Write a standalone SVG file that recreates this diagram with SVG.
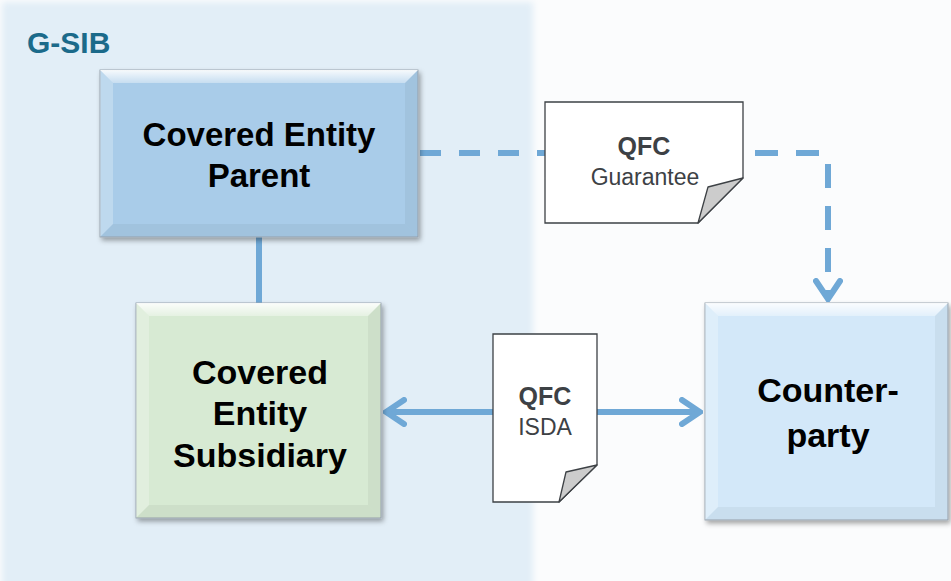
<svg xmlns="http://www.w3.org/2000/svg" width="951" height="581" viewBox="0 0 951 581">
<style>
.lbl{font-family:"Liberation Sans",Arial,sans-serif;font-weight:bold;font-size:33px;fill:#000;text-anchor:middle}
.lbl2{font-family:"Liberation Sans",Arial,sans-serif;font-weight:bold;font-size:34px;fill:#000;text-anchor:middle}
.dq{font-family:"Liberation Sans",Arial,sans-serif;font-weight:bold;font-size:25px;fill:#3d4145;text-anchor:middle}
.dt{font-family:"Liberation Sans",Arial,sans-serif;font-size:23px;fill:#3d4145;text-anchor:middle}
.doc{fill:#ffffff;stroke:#3d4145;stroke-width:1.3}
.fold{fill:#cccccc;stroke:#3d4145;stroke-width:1.3;stroke-linejoin:round}
.conn{fill:none;stroke:#6fa8d6;stroke-width:6}
.box{stroke:#9aa6b0;stroke-width:1}
.hi{fill:url(#hiGrad)}
.lside{fill:#ffffff;fill-opacity:0.25}
.dside{fill:#000000;fill-opacity:0.045}
</style>
<defs>
<linearGradient id="hiGrad" x1="0" y1="0" x2="0" y2="1">
<stop offset="0" stop-color="#ffffff" stop-opacity="0.9"/>
<stop offset="1" stop-color="#ffffff" stop-opacity="0.35"/>
</linearGradient>
<filter id="sh" x="-10%" y="-10%" width="130%" height="130%">
<feDropShadow dx="2" dy="3" stdDeviation="2.5" flood-color="#000" flood-opacity="0.35"/>
</filter>
<filter id="soft" x="-5%" y="-5%" width="110%" height="110%">
<feGaussianBlur stdDeviation="3"/>
</filter>
<marker id="chev" viewBox="0 0 24 30" refX="21" refY="15" markerWidth="24" markerHeight="30" orient="auto-start-reverse" markerUnits="userSpaceOnUse">
<path d="M3,3 L21,15 L3,27" fill="none" stroke="#6fa8d6" stroke-width="6" stroke-linecap="round" stroke-dasharray="none"/>
</marker>
</defs>
<rect width="951" height="581" fill="#fbfcfd"/>
<rect id="gsib-panel" x="2" y="2" width="531" height="600" fill="#e2eef7" filter="url(#soft)"/>
<text x="27" y="53" font-family="'Liberation Sans',Arial,sans-serif" font-weight="bold" font-size="30" fill="#1b6a8a">G-SIB</text>

<g id="connectors">
<line class="conn" x1="259" y1="236" x2="259" y2="304"/>
<path class="conn" d="M420,153 H545" stroke-dasharray="21 18"/>
<path class="conn" d="M755,153 H828" stroke-dasharray="23 18"/>
<path class="conn" d="M828,164 V299" stroke-dasharray="24 18" marker-end="url(#chev)"/>
<path class="conn" d="M493,412 H386" marker-end="url(#chev)"/>
<path class="conn" d="M597,412 H700" marker-end="url(#chev)"/>
</g>

<g id="node-parent">
<rect class="box" x="100" y="70" width="318" height="167" fill="#a9cce9" filter="url(#sh)"/>
<polygon class="hi" points="100,70 418,70 405,83 113,83"/>
<polygon class="lside" points="100,70 113,83 113,224 100,237"/>
<polygon class="dside" points="418,70 418,237 405,224 405,83"/>
<polygon class="dside" points="100,237 418,237 405,224 113,224"/>
<text class="lbl" x="259" y="146">Covered Entity</text>
<text class="lbl" x="259" y="187">Parent</text>
</g>

<g id="node-subsidiary">
<rect class="box" x="136" y="303" width="245" height="215" fill="#d7ead3" filter="url(#sh)"/>
<polygon class="hi" points="136,303 381,303 368,316 149,316"/>
<polygon class="lside" points="136,303 149,316 149,505 136,518"/>
<polygon class="dside" points="381,303 381,518 368,505 368,316"/>
<polygon class="dside" points="136,518 381,518 368,505 149,505"/>
<text class="lbl2" x="260" y="384">Covered</text>
<text class="lbl2" x="260" y="425">Entity</text>
<text class="lbl2" x="260" y="467">Subsidiary</text>
</g>

<g id="node-counterparty">
<rect class="box" x="705" y="303" width="243" height="217" fill="#d3e8f9" filter="url(#sh)"/>
<polygon class="hi" points="705,303 948,303 935,316 718,316"/>
<polygon class="lside" points="705,303 718,316 718,507 705,520"/>
<polygon class="dside" points="948,303 948,520 935,507 935,316"/>
<polygon class="dside" points="705,520 948,520 935,507 718,507"/>
<text class="lbl2" x="828" y="402">Counter-</text>
<text class="lbl2" x="828" y="447">party</text>
</g>

<g id="doc-guarantee">
<path class="doc" d="M545,102 H743 V178 L698,223 H545 Z"/>
<path class="fold" d="M743,178 L708,187 L698,223 Z"/>
<text class="dq" x="644" y="155">QFC</text>
<text class="dt" x="645" y="185">Guarantee</text>
</g>

<g id="doc-isda">
<path class="doc" d="M493,334 H597 V465 L559,502 H493 Z"/>
<path class="fold" d="M597,465 L566,472 L559,502 Z"/>
<text class="dq" x="545" y="405">QFC</text>
<text class="dt" x="545" y="435">ISDA</text>
</g>
</svg>
